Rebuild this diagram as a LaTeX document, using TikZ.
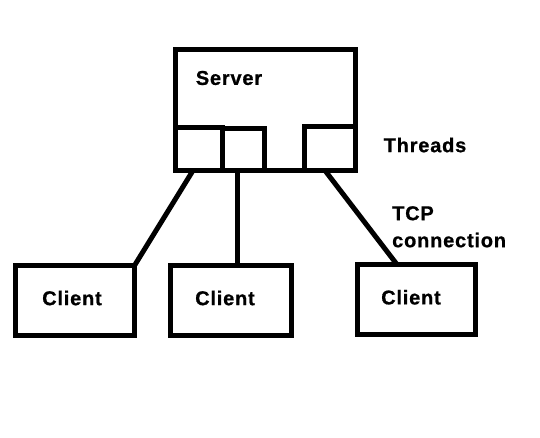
\documentclass[tikz,border=0pt]{standalone}
\usepackage{fontspec}
\newfontfamily\paintfont{Liberation Sans Bold}[LetterSpace=4, FakeBold=0.8]
\usepackage{tikz}
\usetikzlibrary{positioning}

\tikzset{
  box/.style={draw, line width=5pt, inner sep=0pt, outer sep=0pt},
  lbl/.style={font=\paintfont\fontsize{20}{27}\selectfont, inner sep=0pt},
  link/.style={line width=5pt}
}

\begin{document}
\begin{tikzpicture}[x=1pt, y=-1pt]
    \useasboundingbox[fill=white] (0,0) rectangle (540,437);
    % server with its threads
    \node[box, minimum width=180pt, minimum height=121.5pt] (server) at (265.5,109.75) {};
    \node[lbl] (srvlbl) at (229,78) {Server};
    \node[box, minimum width=47pt, minimum height=43pt] (t1) at (199,149) {};
    \node[box, minimum width=42pt, minimum height=42.2pt] (t2) at (243.5,149.4) {};
    \node[box, minimum width=51pt, minimum height=44pt] (t3) at (330,148.5) {};
    \node[lbl] (thrlbl) at (425,145) {Threads};
    % clients
    \node[box, minimum width=119pt, minimum height=70pt] (c1) at (75,300.5) {};
    \node[box, minimum width=121pt, minimum height=70pt] (c2) at (231,300.5) {};
    \node[box, minimum width=118pt, minimum height=69.5pt] (c3) at (416.5,299.25) {};
    \node[lbl] (c1lbl) at ([xshift=-3pt, yshift=2.5pt]c1) {Client};
    \node[lbl] (c2lbl) at ([xshift=-6pt, yshift=2.5pt]c2) {Client};
    \node[lbl] (c3lbl) at ([xshift=-5.5pt, yshift=2pt]c3) {Client};
    % connections
    \draw[link] ([xshift=-6pt]t1.south) -- (c1.north east);
    \draw[link] ([xshift=-6.5pt]t2.south) -- ([xshift=6pt]c2.north);
    \draw[link] ([xshift=-5pt]t3.south) -- ([xshift=-19.5pt]c3.north);
    \node[lbl, align=left, anchor=north west] (tcp) at (392,206) {TCP\\connection};
\end{tikzpicture}
\end{document}
